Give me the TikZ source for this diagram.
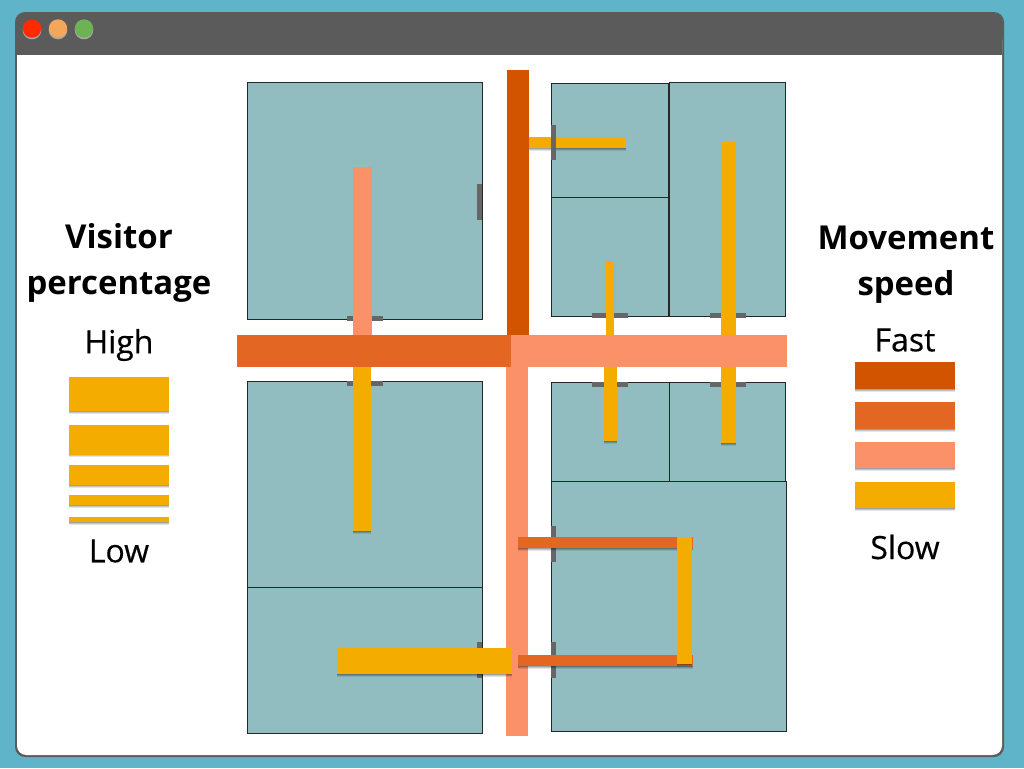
\documentclass[tikz,border=0pt]{standalone}
\usepackage{fontspec}
\setmainfont{Open Sans}
\usetikzlibrary{shadows}
\definecolor{bgteal}{HTML}{5FB4C9}
\definecolor{winbar}{HTML}{5B5B5B}
\definecolor{roomc}{HTML}{92BDC0}
\definecolor{doorc}{HTML}{666666}
\definecolor{fastc}{HTML}{D35400}
\definecolor{medc}{HTML}{E36622}
\definecolor{salm}{HTML}{FB9169}
\definecolor{slowc}{HTML}{F5AC00}
\definecolor{btnr}{HTML}{FF2A00}
\definecolor{btno}{HTML}{F4A65A}
\definecolor{btng}{HTML}{6DB356}
\tikzset{
  softshadow/.style={
    drop shadow={shadow xshift=0pt,shadow yshift=-2pt,opacity=.10,fill=black},
    drop shadow={shadow xshift=0pt,shadow yshift=-1.3pt,opacity=.14,fill=black},
    drop shadow={shadow xshift=0pt,shadow yshift=-0.7pt,opacity=.18,fill=black}},
  room/.style={fill=roomc,draw=black!85,line width=0.75pt,
    drop shadow={shadow xshift=0.6pt,shadow yshift=-0.6pt,opacity=.28,fill=black}},
  door/.style={fill=doorc},
  band/.style={softshadow},
  title/.style={font=\bfseries\fontsize{24.7}{34.5}\selectfont,align=center,text=black},
  lab/.style={font=\fontsize{24}{28}\selectfont\addfontfeature{FakeBold=0.4},text=black},
}
\newcommand{\rc}[3][]{\path[#1] #2 rectangle #3;}
\begin{document}
\begin{tikzpicture}[x=0.75pt,y=-0.75pt]
\useasboundingbox (0,0) rectangle (1024,768);
\fill[bgteal] (0,0) rectangle (1024,768);
% window
\fill[winbar,rounded corners=7.5pt] (15,12) rectangle (1004,757);
\fill[white,rounded corners=7pt] (17,30) rectangle (1002,755);
\fill[winbar] (17,20) rectangle (1002,55);
\foreach \cx/\cc in {32/btnr,58/btno,84/btng}{
  \fill[black!35] (\cx,30) circle[radius=7pt];
  \fill[\cc] (\cx,28.5) circle[radius=6.9pt];
}
% rooms
\rc[room]{(247,82)}{(482.5,319.5)}
\rc[room]{(551,83)}{(668.5,197.5)}
\rc[room]{(551,197.5)}{(668.5,316.5)}
\rc[room]{(669,82)}{(785.5,316.5)}
\rc[room]{(247,381)}{(482.5,587.5)}
\rc[room]{(247,587.5)}{(482.5,733.5)}
\rc[room]{(551,382)}{(669.5,481.5)}
\rc[room]{(669.5,382)}{(785.5,481.5)}
\rc[room]{(551,481.5)}{(786.5,731.5)}
% doors
\rc[door]{(477,184)}{(482,220)}
\rc[door]{(347,316)}{(383,321)}
\rc[door]{(347,381)}{(383,386)}
\rc[door]{(592,313)}{(628,318)}
\rc[door]{(710,313)}{(746,318)}
\rc[door]{(592,382)}{(628,387)}
\rc[door]{(710,382)}{(746,387)}
\rc[door]{(551,526)}{(556,562)}
\rc[door]{(551,642)}{(556,678)}
\rc[door]{(477,642)}{(482,678)}
% slow paths in rooms
\rc[band,fill=slowc]{(529,137)}{(626,148)}
\rc[door]{(551,125)}{(556,160)}
\rc[band,fill=slowc]{(721,141)}{(736,443)}
\rc[band,fill=slowc]{(606,261)}{(614,335)}
\rc[band,fill=slowc]{(604,367)}{(617,441)}
\rc[band,fill=salm]{(353,167)}{(372,335)}
\rc[band,fill=slowc]{(353,367)}{(371,531)}
% corridors
\rc[fill=fastc]{(506.5,70)}{(528.5,335)}
\rc[fill=salm]{(506,367)}{(528,736)}
\rc[fill=salm]{(511,335)}{(787,367)}
\rc[fill=medc]{(237,335)}{(511,367)}
% paths over corridors
\rc[band,fill=slowc]{(337,648)}{(512,674)}
\rc[band,fill=medc]{(518,537)}{(693,548)}
\rc[band,fill=medc]{(518,655)}{(693,666)}
\rc[band,fill=slowc]{(677,537)}{(692,664)}
% left legend
\rc[band,fill=slowc]{(69,377)}{(169,411)}
\rc[band,fill=slowc]{(69,424.5)}{(169,454.5)}
\rc[band,fill=slowc]{(69,465)}{(169,485)}
\rc[band,fill=slowc]{(69,495)}{(169,505)}
\rc[band,fill=slowc]{(69,517)}{(169,522)}
% right legend
\rc[band,fill=fastc]{(855,362)}{(955,389)}
\rc[band,fill=medc]{(855,402)}{(955,429)}
\rc[band,fill=salm]{(855,442)}{(955,468)}
\rc[band,fill=slowc]{(855,482)}{(955,508)}
% text
\node[title] (tv) at (119,262.5) {Visitor\\percentage};
\node[title] (tm) at (906,265) {Movement\\speed};
\node[lab] (high) at (119,345) {High};
\node[lab] (low) at (119,551) {Low};
\node[lab] (fast) at (905,340) {Fast};
\node[lab] (slow) at (905,547) {Slow};
\end{tikzpicture}
\end{document}
